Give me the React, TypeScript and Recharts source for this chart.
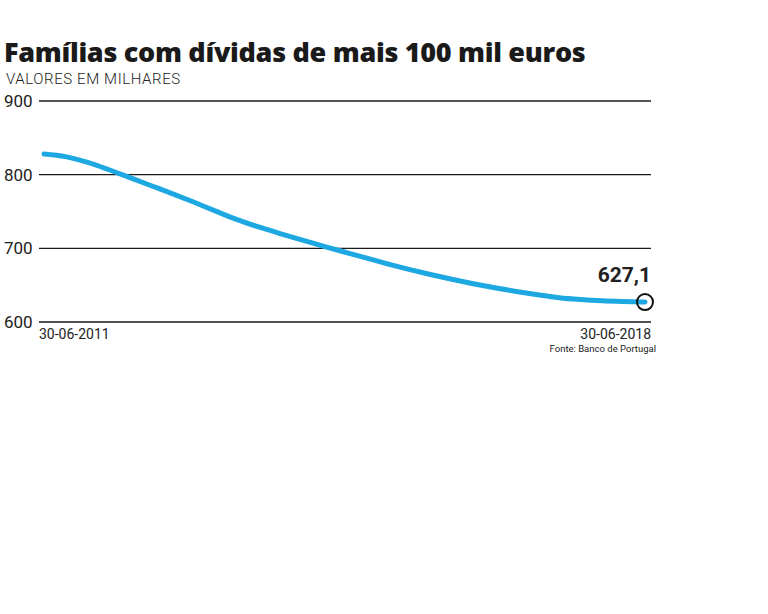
import { LineChart, Line, XAxis, YAxis, CartesianGrid } from 'recharts';

// quarterly, 30-06-2011 .. 30-06-2018 (thousands of households)
const quarters = [
    '30-06-2011', '30-09-2011', '31-12-2011', '31-03-2012',
    '30-06-2012', '30-09-2012', '31-12-2012', '31-03-2013',
    '30-06-2013', '30-09-2013', '31-12-2013', '31-03-2014',
    '30-06-2014', '30-09-2014', '31-12-2014', '31-03-2015',
    '30-06-2015', '30-09-2015', '31-12-2015', '31-03-2016',
    '30-06-2016', '30-09-2016', '31-12-2016', '31-03-2017',
    '30-06-2017', '30-09-2017', '31-12-2017', '31-03-2018',
    '30-06-2018',
];
const households = [
    828, 824.5, 817, 807, 796, 785, 774, 762.5, 750.5, 739,
    729, 720, 711.5, 703, 695, 687, 679, 671.5, 664.5, 658,
    652, 646.5, 641.5, 637, 633, 630.5, 628.8, 627.8, 627.1,
];
const yTicks = [600, 700, 800, 900];
const xTicks = ['30-06-2011', '30-06-2018'];

const data = quarters.map((q, i) => ({ date: q, value: households[i] }));

const FONT = 'Roboto, "DejaVu Sans", sans-serif';

const YTick = ({ y, payload }: any) => (
    <text x={4} y={y} dy={6} fontSize={17} fill="#222" fontFamily={FONT} textAnchor="start">
        {payload.value}
    </text>
);

const XTick = ({ y, payload, index }: any) => (
    <text
        x={index === 0 ? 39 : 651}
        y={y}
        dy={9}
        fontSize={14}
        fill="#222"
        fontFamily={FONT}
        textAnchor={index === 0 ? 'start' : 'end'}
    >
        {payload.value}
    </text>
);

const EndDot = ({ cx, cy, index, value }: any) => {
    if (index !== households.length - 1) return null;
    return (
        <g key="end">
            <circle cx={cx} cy={cy} r={8} fill="none" stroke="#111" strokeWidth={2} />
            <text x={cx + 6} y={cy - 20} fontSize={21} fontWeight={700} fill="#222" fontFamily={FONT} textAnchor="end">
                {String(value).replace('.', ',')}
            </text>
        </g>
    );
};

export default function App() {
    return (
        <div style={{ position: 'absolute', left: 0, top: 0, width: 768, height: 614, background: '#fff', fontFamily: FONT }}>
            <div style={{ position: 'absolute', left: 4, top: 38, fontSize: 27, lineHeight: '27px', fontWeight: 800, color: '#1a1a1a', fontFamily: '"Open Sans", sans-serif', letterSpacing: -0.3, whiteSpace: 'nowrap' }}>
                Famílias com dívidas de mais 100 mil euros
            </div>
            <div style={{ position: 'absolute', left: 6, top: 72, fontSize: 15, lineHeight: '15px', fontWeight: 300, color: '#222', letterSpacing: 0.6, whiteSpace: 'nowrap' }}>
                VALORES EM MILHARES
            </div>
            <LineChart
                width={768}
                height={614}
                data={data}
                margin={{ top: 101, right: 117, left: 4, bottom: 262 }}
            >
                <CartesianGrid horizontal vertical={false} stroke="#1a1a1a" strokeWidth={1.3} strokeDasharray="0" />
                <XAxis
                    dataKey="date"
                    ticks={xTicks}
                    interval={0}
                    height={30}
                    axisLine={false}
                    tickLine={false}
                    tick={<XTick />}
                    padding={{ left: 5, right: 6 }}
                />
                <YAxis
                    domain={[600, 900]}
                    ticks={yTicks}
                    width={35}
                    axisLine={false}
                    tickLine={false}
                    tick={<YTick />}
                />
                <Line
                    type="monotone"
                    dataKey="value"
                    stroke="#1ea8e2"
                    strokeWidth={5}
                    strokeLinecap="round"
                    dot={<EndDot />}
                    activeDot={false}
                    isAnimationActive={false}
                />
            </LineChart>
            <div style={{ position: 'absolute', right: 768 - 656, top: 344, fontSize: 9.5, lineHeight: '10px', color: '#222', whiteSpace: 'nowrap' }}>
                Fonte: Banco de Portugal
            </div>
        </div>
    );
}
